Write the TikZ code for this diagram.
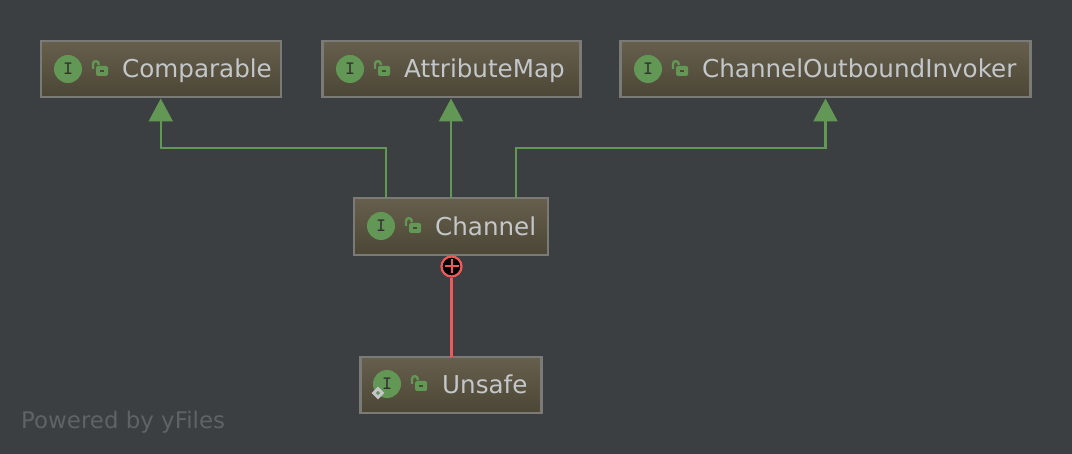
\documentclass[tikz,border=0pt]{standalone}
\usepackage{fontspec}
\setmainfont{DejaVu Sans}
\usetikzlibrary{arrows.meta}
\definecolor{canvas}{HTML}{3C3F41}
\definecolor{boxline}{HTML}{7A7A76}
\definecolor{boxtop}{HTML}{675F4D}
\definecolor{boxbottom}{HTML}{4B4636}
\definecolor{labeltext}{HTML}{C4C7CA}
\definecolor{icongreen}{HTML}{629755}
\definecolor{linkred}{HTML}{F0595A}
\definecolor{marktext}{HTML}{5F6366}
\tikzset{
    class-box/.style = {draw=boxline, line width=2.4pt, top color=boxtop, bottom color=boxbottom, rectangle, outer sep=0pt, inner sep=0pt, minimum height=56pt},
    class-label/.style = {text=labeltext, anchor=base west, inner sep=0pt, font=\fontsize{24.6}{30}\selectfont},
    iface-badge/.style = {circle, fill=icongreen, minimum size=28pt, inner sep=0pt, text=black!80, font=\ttfamily\bfseries\fontsize{19}{19}\selectfont},
    extends-line/.style = {draw=icongreen, line width=2.2pt, -{Triangle[width=24pt,length=23pt]}, shorten >=1.5pt},
    inner-line/.style = {draw=linkred, line width=2.2pt},
    inner-mark/.style = {circle, draw=linkred, fill=black, line width=2.2pt, minimum size=20pt, inner sep=0pt},
    open-lock/.pic = {
        \fill[icongreen, rounded corners=1.5pt] (-6,-5) rectangle (6,5);
        \fill[boxbottom] (-1.8,-0.8) rectangle (1.8,0.8);
        \draw[icongreen, line width=2.4pt] (-9,-2) -- (-9,-7) .. controls (-9,-11) and (-3,-11) .. (-3,-6);
    },
}
\begin{document}
\begin{tikzpicture}[x=1pt, y=-1pt]
\fill[canvas] (0,0) rectangle (1072,454);
\useasboundingbox (0,0) rectangle (1072,454);

% class boxes
\node [class-box, minimum width=240pt] (comparable) at (160.75,69) {};
\node [class-box, minimum width=258pt] (attributemap) at (451.5,69) {};
\node [class-box, minimum width=410pt] (invoker) at (825.5,69) {};
\node [class-box, minimum width=194pt, minimum height=57pt] (channel) at (451,226.5) {};
\node [class-box, minimum width=181pt] (unsafe) at (451,385) {};

% icons and names
\node [iface-badge] (comparable-badge) at (68,69) {I};
\pic at (102,71) {open-lock};
\node [class-label] (comparable-label) at (122,78) {Comparable};
\node [iface-badge] (attributemap-badge) at (350,69) {I};
\pic at (384,71) {open-lock};
\node [class-label] (attributemap-label) at (404,78) {AttributeMap};
\node [iface-badge] (invoker-badge) at (648,69) {I};
\pic at (682,71) {open-lock};
\node [class-label] (invoker-label) at (702,78) {ChannelOutboundInvoker};
\node [iface-badge] (channel-badge) at (381,226) {I};
\pic at (415,228) {open-lock};
\node [class-label] (channel-label) at (435,236) {Channel};
\node [iface-badge] (unsafe-badge) at (387,384) {I};
\pic at (421,386) {open-lock};
\node [class-label] (unsafe-label) at (442,394) {Unsafe};
\node [fill=labeltext, rotate=45, minimum size=9pt, inner sep=0pt] (unsafe-flag) at (378,393) {};
\node [fill=icongreen!70!gray, rotate=45, minimum size=3pt, inner sep=0pt] (unsafe-dot) at (378,393) {};

% connectors
\coordinate (channel-left) at (386,198);
\coordinate (channel-right) at (516,198);
\draw [extends-line] (channel-left) -- (386,148) -| (comparable.south);
\draw [extends-line] (channel.north) -- (attributemap.south -| channel.north);
\draw [extends-line] (channel-right) -- (516,148) -| (invoker.south);

\node [inner-mark] (channel-mark) at (451.5,266.5) {};
\draw [inner-line] (channel-mark) -- (channel-mark |- unsafe.north);
\draw [draw=linkred, line width=2pt] (444.5,266.5) -- (458.5,266.5) (451.5,259.5) -- (451.5,273.5);

\node [anchor=base west, inner sep=0pt, text=marktext, font=\fontsize{22.9}{26}\selectfont] (powered) at (21,429) {Powered by yFiles};
\end{tikzpicture}
\end{document}
